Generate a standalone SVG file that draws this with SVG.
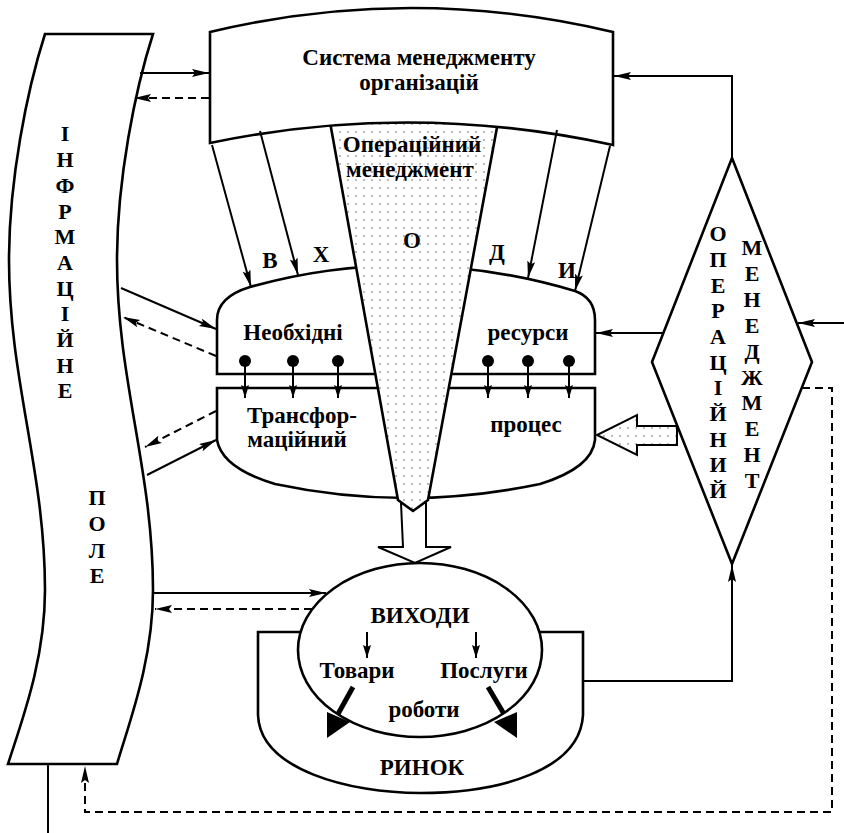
<svg xmlns="http://www.w3.org/2000/svg" width="844" height="833" viewBox="0 0 844 833">
<style>
.t{font-family:"Liberation Serif","Times New Roman",serif;font-weight:bold;font-size:23px;text-anchor:middle;fill:#000}
.v{font-family:"Liberation Serif","Times New Roman",serif;font-weight:bold;font-size:22px;text-anchor:middle;fill:#000}
.shape{fill:#fff;stroke:#000;stroke-width:2.6}
.c{fill:none;stroke:#000;stroke-width:2}
.d{fill:none;stroke:#000;stroke-width:2;stroke-dasharray:8 5}
.a{marker-end:url(#ah)}
.s{marker-end:url(#sh)}
</style>
<defs>
<marker id="ah" markerUnits="userSpaceOnUse" markerWidth="18" markerHeight="10" refX="17" refY="4" orient="auto">
<path d="M0,0 L17,4 L0,8 L3,4 Z" fill="#000"/>
</marker>
<marker id="sh" markerUnits="userSpaceOnUse" markerWidth="14" markerHeight="10" refX="13" refY="4" orient="auto">
<path d="M0,0 L13,4 L0,8 L2,4 Z" fill="#000"/>
</marker>
<pattern id="dots" width="8" height="8" patternUnits="userSpaceOnUse">
<rect width="8" height="8" fill="#fff"/>
<circle cx="4" cy="4" r="0.75" fill="#555"/>
</pattern>
</defs>

<g id="info-field">
<path class="shape" d="M45,34 L153,34 C135,90 117,180 117,260 C117,380 153,470 153,590 C153,660 130,720 117,764 L8,764 C22,720 45,660 45,590 C45,470 9,380 9,260 C9,180 27,90 45,34 Z"/>
<text class="v"><tspan x="65" y="141">І</tspan><tspan x="65" y="167">Н</tspan><tspan x="65" y="193">Ф</tspan><tspan x="65" y="219">Р</tspan><tspan x="65" y="244">М</tspan><tspan x="65" y="270">А</tspan><tspan x="65" y="296">Ц</tspan><tspan x="65" y="321">І</tspan><tspan x="65" y="347">Й</tspan><tspan x="65" y="373">Н</tspan><tspan x="65" y="398">Е</tspan></text>
<text class="v"><tspan x="97" y="505">П</tspan><tspan x="97" y="531">О</tspan><tspan x="97" y="558">Л</tspan><tspan x="97" y="583">Е</tspan></text>
</g>

<g id="resources">
<path class="shape" d="M217,374 L217,320 Q217,297 250,287 Q410,242 575,291 Q595,298 595,320 L595,374 Z"/>
</g>
<g id="transformation">
<path class="shape" d="M217,388 L595,388 L595,440 Q592,468 540,484 Q406,512 275,484 Q222,468 217,440 Z"/>
</g>

<g id="output-arrow">
<path d="M401,503 L403,547 L378,547 L415,563 L451,547 L426,547 L426,503 Z" fill="#fff" stroke="#000" stroke-width="2"/>
</g>

<g id="operational-funnel">
<polygon points="330,122 498,122 428,500 413,511 398,500" fill="url(#dots)" stroke="#000" stroke-width="2.6"/>
<text class="t" x="412" y="152">Операційний</text>
<text class="t" x="410" y="177">менеджмент</text>
<text class="t" x="412" y="248">О</text>
</g>

<g id="management-system">
<path class="shape" d="M210,32 Q411,-16 613,32 L613,145 Q411,101 210,143 Z"/>
<text class="t" x="419" y="65">Система менеджменту</text>
<text class="t" x="419" y="90">організацій</text>
</g>

<g id="labels">
<text class="t" x="270" y="268">В</text>
<text class="t" x="321" y="262">Х</text>
<text class="t" x="497" y="260">Д</text>
<text class="t" x="567" y="278">И</text>
<text class="t" x="293" y="340">Необхідні</text>
<text class="t" x="528" y="340">ресурси</text>
<text class="t" x="302" y="423">Трансфор-</text>
<text class="t" x="297" y="447">маційний</text>
<text class="t" x="526" y="432">процес</text>
</g>

<g id="market">
<path class="shape" d="M258,632 L583,632 L583,715 C580,770 500,793 420,793 C350,793 260,770 258,715 Z"/>
<text class="t" x="422" y="775">РИНОК</text>
</g>

<g id="outputs">
<ellipse class="shape" cx="420" cy="650" rx="122" ry="87"/>
<text class="t" x="420" y="623">ВИХОДИ</text>
<text class="t" x="357" y="678">Товари</text>
<text class="t" x="484" y="678">Послуги</text>
<text class="t" x="424" y="717">роботи</text>
<line x1="353" y1="687" x2="338" y2="714" stroke="#000" stroke-width="5"/>
<polygon points="327,712 327,738 350,722" fill="#000"/>
<line x1="488" y1="687" x2="504" y2="714" stroke="#000" stroke-width="5"/>
<polygon points="517,712 517,738 494,722" fill="#000"/>
</g>

<g id="operational-management">
<polygon class="shape" points="732,158 812,362 732,564 652,362"/>
<text class="v"><tspan x="718" y="241">О</tspan><tspan x="718" y="267">П</tspan><tspan x="718" y="293">Е</tspan><tspan x="718" y="318">Р</tspan><tspan x="718" y="344">А</tspan><tspan x="718" y="370">Ц</tspan><tspan x="718" y="395">І</tspan><tspan x="718" y="421">Й</tspan><tspan x="718" y="447">Н</tspan><tspan x="718" y="472">И</tspan><tspan x="718" y="498">Й</tspan></text>
<text class="v"><tspan x="752" y="255">М</tspan><tspan x="752" y="281">Е</tspan><tspan x="752" y="307">Н</tspan><tspan x="752" y="333">Е</tspan><tspan x="752" y="359">Д</tspan><tspan x="752" y="385">Ж</tspan><tspan x="752" y="410">М</tspan><tspan x="752" y="436">Е</tspan><tspan x="752" y="462">Н</tspan><tspan x="752" y="488">Т</tspan></text>
</g>

<g id="connectors">
<line class="c a" x1="140" y1="73" x2="209" y2="73"/>
<line class="d a" x1="209" y1="98" x2="134" y2="98"/>
<line class="c a" x1="212" y1="145" x2="251" y2="287"/>
<line class="c a" x1="260" y1="131" x2="298" y2="275"/>
<line class="c a" x1="557" y1="130" x2="528" y2="278"/>
<line class="c a" x1="610" y1="146" x2="575" y2="291"/>
<polyline class="c a" points="732,158 732,76 614,76"/>
<line class="c a" x1="663" y1="333" x2="596" y2="333"/>
<line class="c a" x1="844" y1="323" x2="798" y2="323"/>
<line class="c a" x1="121" y1="288" x2="216" y2="329"/>
<line class="d a" x1="216" y1="356" x2="123" y2="317"/>
<line class="d a" x1="216" y1="411" x2="145" y2="447"/>
<line class="c a" x1="147" y1="475" x2="216" y2="440"/>
<line class="c a" x1="154" y1="593" x2="326" y2="593"/>
<line class="d a" x1="312" y1="609" x2="155" y2="609"/>
<polyline class="c a" points="583,681 732,681 732,565"/>
<polyline class="d a" points="802,388 832,388 832,812 85,812 85,766"/>
<line class="c" x1="48" y1="764" x2="48" y2="833"/>
<polygon points="677,426 637,426 637,415 597,435 637,455 637,445 677,445" fill="url(#dots)" stroke="#000" stroke-width="2"/>
<line class="c s" x1="367" y1="632" x2="367" y2="658"/>
<line class="c s" x1="476" y1="632" x2="476" y2="658"/>
<g fill="#000">
<circle cx="245" cy="361" r="6"/><circle cx="293" cy="361" r="6"/><circle cx="338" cy="361" r="6"/>
<circle cx="488" cy="361" r="6"/><circle cx="528" cy="361" r="6"/><circle cx="569" cy="361" r="6"/>
</g>
<line class="c s" x1="245" y1="361" x2="245" y2="398"/>
<line class="c s" x1="293" y1="361" x2="293" y2="398"/>
<line class="c s" x1="338" y1="361" x2="338" y2="398"/>
<line class="c s" x1="488" y1="361" x2="488" y2="398"/>
<line class="c s" x1="528" y1="361" x2="528" y2="398"/>
<line class="c s" x1="569" y1="361" x2="569" y2="398"/>
</g>
</svg>
